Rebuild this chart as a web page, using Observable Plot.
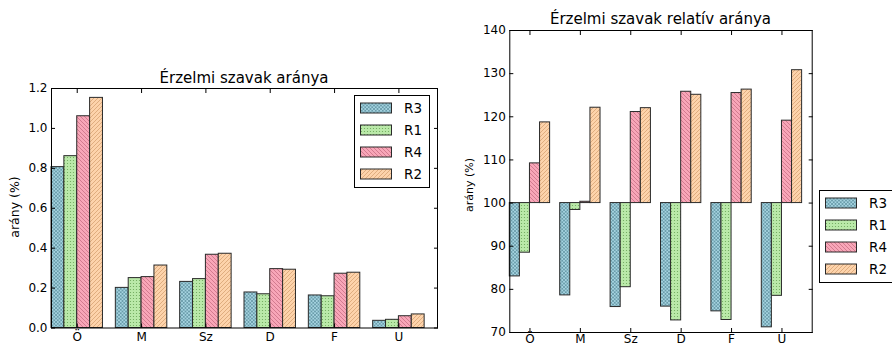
<!DOCTYPE html>
<html><head><meta charset="utf-8">
<script src="https://cdn.jsdelivr.net/npm/d3@7"></script>
<script src="https://cdn.jsdelivr.net/npm/@observablehq/plot@0.6"></script>
<style>
body{margin:0;background:#fff;font-family:"DejaVu Sans",sans-serif;}
#wrap{position:relative;width:892px;height:347px;overflow:hidden;background:#fff;}
.chart{position:absolute;top:0;}
.title{position:absolute;font-size:15px;line-height:16px;color:#000;white-space:nowrap;transform:translateX(-50%);}
.ylab{position:absolute;color:#000;white-space:nowrap;line-height:1;transform:translate(-50%,-50%) rotate(-90deg);}
.legend{position:absolute;border:1px solid #000;background:#fff;box-sizing:border-box;}
.legend .row{position:absolute;left:5px;height:12px;display:flex;align-items:center;font-size:13.5px;color:#000;}
.legend .row svg{margin-right:12px;}
</style>
</head><body>
<div id="wrap"></div>
<script>
// ---- data ----
const categories = ["Ö", "M", "Sz", "D", "F", "U"];
const seriesNames = ["R3", "R1", "R4", "R2"];

// Érzelmi szavak aránya (%)
const aranyR3 = [0.806, 0.201, 0.231, 0.178, 0.163, 0.036];
const aranyR1 = [0.861, 0.250, 0.245, 0.169, 0.159, 0.041];
const aranyR4 = [1.061, 0.255, 0.367, 0.295, 0.272, 0.059];
const aranyR2 = [1.153, 0.313, 0.372, 0.292, 0.277, 0.068];

// Érzelmi szavak relatív aránya (%)
const relR3 = [83.0, 78.6, 75.9, 76.0, 74.9, 71.2];
const relR1 = [88.5, 98.4, 80.5, 72.8, 72.9, 78.5];
const relR4 = [109.2, 100.3, 121.1, 125.8, 125.5, 119.1];
const relR2 = [118.7, 122.1, 122.0, 125.1, 126.3, 130.8];

const yTicksArany = [0, 0.2, 0.4, 0.6, 0.8, 1.0, 1.2];
const yTicksRel = [70, 80, 90, 100, 110, 120, 130, 140];

const titleArany = "Érzelmi szavak aránya";
const titleRel = "Érzelmi szavak relatív aránya";
const yLabel = "arány (%)";

// ---- styles ----
const pat = {
  R3: {base: "#a6d4e1", ink: "#5a8e9c", kind: "x"},
  R1: {base: "#bae9a9", ink: "#6aa558", kind: "dot"},
  R4: {base: "#f8a6b8", ink: "#c2697d", kind: "back"},
  R2: {base: "#fdd3ab", ink: "#d39c6c", kind: "fwd"}
};
const barW = 0.2;

// ---- tables ----
const arany = {R3: aranyR3, R1: aranyR1, R4: aranyR4, R2: aranyR2};
const rel = {R3: relR3, R1: relR1, R4: relR4, R2: relR2};
const toRows = (src) => seriesNames.flatMap((s, j) => src[s].map((v, i) => ({cat: categories[i], i, s, j, v})));
const aranyRows = toRows(arany);
const relRows = toRows(rel);
const xTickPos = categories.map((c, i) => i + 2 * barW);

// ---- pattern defs ----
const wrap = document.getElementById("wrap");
const defsSvg = d3.select(wrap).append("svg").attr("width", 0).attr("height", 0).style("position", "absolute");
const defs = defsSvg.append("defs");
for (const s of seriesNames) {
  const p = pat[s];
  const id = "p" + s.toLowerCase();
  if (p.kind === "x") {
    const g = defs.append("pattern").attr("id", id).attr("patternUnits", "userSpaceOnUse").attr("width", 3.5).attr("height", 3.5);
    g.append("rect").attr("width", 3.5).attr("height", 3.5).attr("fill", p.base);
    g.append("path").attr("d", "M0,0L3.5,3.5M3.5,0L0,3.5").attr("stroke", p.ink).attr("stroke-width", 0.7);
  } else if (p.kind === "dot") {
    const g = defs.append("pattern").attr("id", id).attr("patternUnits", "userSpaceOnUse").attr("width", 3).attr("height", 3);
    g.append("rect").attr("width", 3).attr("height", 3).attr("fill", p.base);
    g.append("circle").attr("cx", 1.5).attr("cy", 1.5).attr("r", 0.6).attr("fill", p.ink);
  } else if (p.kind === "back") {
    const g = defs.append("pattern").attr("id", id).attr("patternUnits", "userSpaceOnUse").attr("width", 4).attr("height", 4);
    g.append("rect").attr("width", 4).attr("height", 4).attr("fill", p.base);
    g.append("path").attr("d", "M0,0L4,4M-1,3L1,5M3,-1L5,1").attr("stroke", p.ink).attr("stroke-width", 0.7);
  } else {
    const g = defs.append("pattern").attr("id", id).attr("patternUnits", "userSpaceOnUse").attr("width", 4).attr("height", 4);
    g.append("rect").attr("width", 4).attr("height", 4).attr("fill", p.base);
    g.append("path").attr("d", "M0,4L4,0M-1,1L1,-1M3,5L5,3").attr("stroke", p.ink).attr("stroke-width", 0.7);
  }
}

function makeChart({rows, yDomain, yTicks, yFmt, baseline, width, height, margin, xPad}) {
  const bars = seriesNames.map(s => Plot.rectY(rows.filter(d => d.s === s), {
    x1: d => d.i + d.j * barW,
    x2: d => d.i + (d.j + 1) * barW,
    y1: baseline,
    y2: "v",
    fill: `url(#p${s.toLowerCase()})`,
    stroke: "#2a2a2a",
    strokeWidth: 1
  }));
  return Plot.plot({
    width, height,
    marginLeft: margin[0], marginRight: margin[1], marginTop: margin[2], marginBottom: margin[3],
    style: {fontFamily: "DejaVu Sans, sans-serif", fontSize: "12px", color: "#000", background: "transparent", overflow: "visible"},
    x: {domain: [0, 6]},
    y: {domain: yDomain},
    marks: [
      ...bars,
      Plot.axisY(yTicks, {tickFormat: yFmt, tickSize: -4, tickPadding: 8, label: null, fontSize: 12}),
      Plot.axisY(yTicks, {anchor: "right", tickSize: -4, fill: "none", label: null}),
      Plot.axisX(xTickPos, {tickFormat: d => categories[Math.round(d - 2 * barW)], tickSize: -4, tickPadding: xPad, label: null, fontSize: 12}),
      Plot.axisX(xTickPos, {anchor: "top", tickSize: -4, fill: "none", label: null}),
      Plot.frame({stroke: "#000", strokeWidth: 1})
    ]
  });
}

const left = makeChart({
  rows: aranyRows, yDomain: [0, 1.2], yTicks: yTicksArany, yFmt: d3.format(".1f"), baseline: 0,
  width: 445, height: 347, margin: [51, 8, 88, 19.5], xPad: 8
});
left.classList.add("chart");
left.style.left = "0px";
wrap.appendChild(left);

const right = makeChart({
  rows: relRows, yDomain: [70, 140], yTicks: yTicksRel, yFmt: d3.format("d"), baseline: 100,
  width: 447, height: 347, margin: [64.3, 80.3, 30, 15], xPad: 6
});
right.classList.add("chart");
right.style.left = "445px";
wrap.appendChild(right);

// ---- titles & axis labels ----
function addTitle(text, cx, top) {
  const t = document.createElement("div");
  t.className = "title";
  t.textContent = text;
  t.style.left = cx + "px";
  t.style.top = top + "px";
  wrap.appendChild(t);
}
addTitle(titleArany, 244, 70);
addTitle(titleRel, 660.5, 11);

function addYLabel(text, cx, cy, size) {
  const t = document.createElement("div");
  t.className = "ylab";
  t.textContent = text;
  t.style.left = cx + "px";
  t.style.top = cy + "px";
  t.style.fontSize = size + "px";
  wrap.appendChild(t);
}
addYLabel(yLabel, 14.5, 207, 12.5);
addYLabel(yLabel, 468.5, 185, 11);

// ---- legends ----
function addLegend(left, top, width) {
  const box = document.createElement("div");
  box.className = "legend";
  box.style.left = left + "px";
  box.style.top = top + "px";
  box.style.width = width + "px";
  box.style.height = "93px";
  seriesNames.forEach((s, k) => {
    const row = document.createElement("div");
    row.className = "row";
    row.style.top = (6 + k * 22) + "px";
    const sw = d3.create("svg").attr("width", 32).attr("height", 12);
    sw.append("rect").attr("x", 0.5).attr("y", 1).attr("width", 31).attr("height", 10)
      .attr("fill", `url(#p${s.toLowerCase()})`).attr("stroke", "#2a2a2a").attr("stroke-width", 1);
    row.appendChild(sw.node());
    const lab = document.createElement("span");
    lab.textContent = s;
    row.appendChild(lab);
    box.appendChild(row);
  });
  wrap.appendChild(box);
}
addLegend(354, 95, 76);
addLegend(819, 190, 90);
</script>
</body></html>
